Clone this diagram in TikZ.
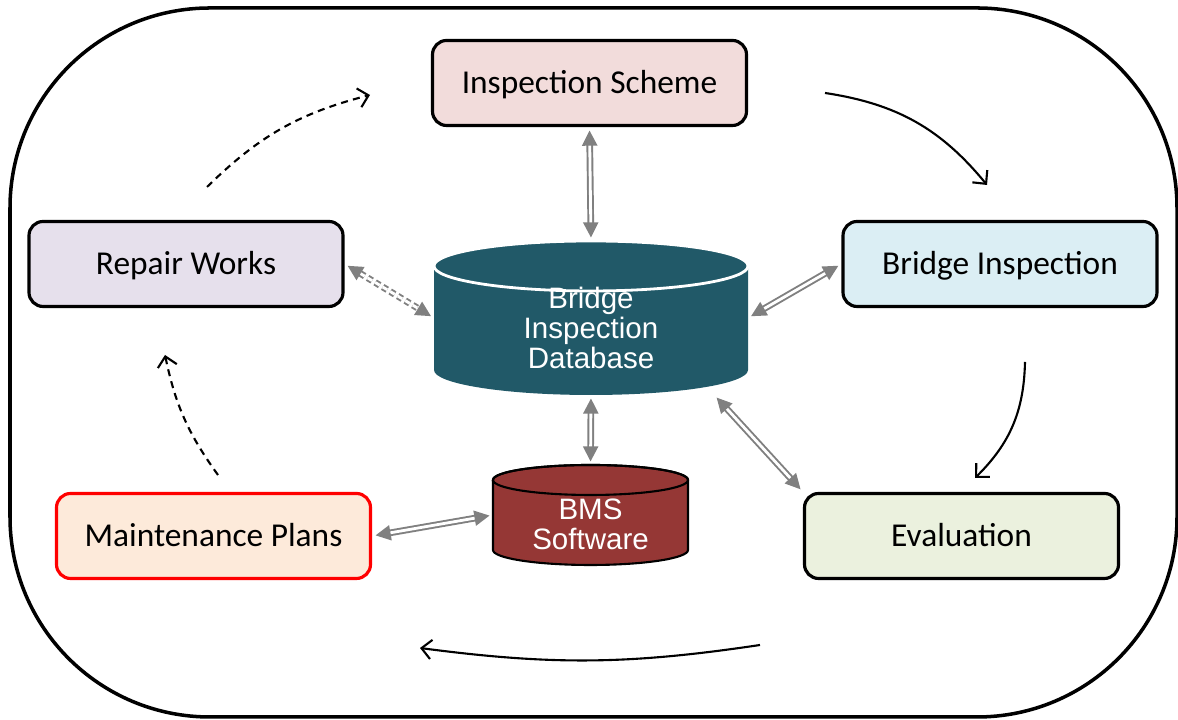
\documentclass[tikz,border=0pt]{standalone}
\usepackage{fontspec}
\setmainfont{Carlito}
\newfontfamily\dbfont{Liberation Sans}
\usetikzlibrary{arrows.meta}

\definecolor{schemefill}{HTML}{F2DCDB}
\definecolor{repairfill}{HTML}{E6E0EC}
\definecolor{inspfill}{HTML}{DBEEF4}
\definecolor{maintfill}{HTML}{FDEADA}
\definecolor{evalfill}{HTML}{EBF1DE}
\definecolor{dbfill}{HTML}{215968}
\definecolor{bmsfill}{HTML}{953735}
\definecolor{linkgray}{HTML}{808080}

\begin{document}
\begin{tikzpicture}
            [stage/.style = {draw, line width=0.9pt, rounded corners=4pt,
                             minimum width=3.14cm, minimum height=0.85cm,
                             text height=8.2pt, text depth=2pt,
                             font=\fontsize{9.5}{11}\selectfont},
             storebox/.style = {inner sep=0pt, outer sep=0pt},
             storetext/.style = {text=white, align=center, inner sep=0pt,
                                 font=\dbfont\fontsize{8.4}{8.6}\selectfont},
             link/.style = {draw=linkgray, double=white, double distance=0.8pt,
                            line width=0.55pt, shorten <=1pt, shorten >=1pt,
                            {Triangle[length=4.3pt,width=4.3pt]}-{Triangle[length=4.3pt,width=4.3pt]}},
             flow/.style = {line width=0.6pt, -{Straight Barb[length=2.8pt,width=5.5pt]}}]
            \useasboundingbox (0,0) rectangle (11.78,7.20);
            % outer frame
            \draw[line width=1pt, rounded corners=2cm] (0.10,0.03) rectangle (11.77,7.12);
            % stages of the cycle
            \node[stage, fill=schemefill] (scheme) at (5.895,6.37) {Inspection Scheme};
            \node[stage, fill=inspfill] (insp) at (10.00,4.56) {Bridge Inspection};
            \node[stage, fill=evalfill] (eval) at (9.615,1.84) {Evaluation};
            \node[stage, fill=maintfill, draw=red] (maint) at (2.135,1.84) {Maintenance Plans};
            \node[stage, fill=repairfill] (repair) at (1.86,4.56) {Repair Works};
            % database cylinder
            \node[storebox, minimum width=3.14cm, minimum height=1.54cm] (db) at (5.91,4.02) {};
            \fill[dbfill] ([yshift=-0.25cm]db.north west) -- ([yshift=0.25cm]db.south west)
                arc[start angle=180, end angle=360, x radius=1.57cm, y radius=0.25cm]
                -- ([yshift=-0.25cm]db.north east)
                arc[start angle=0, end angle=180, x radius=1.57cm, y radius=0.25cm] -- cycle;
            \draw[white, line width=0.8pt] ([yshift=-0.25cm]db.north) ellipse [x radius=1.57cm, y radius=0.25cm];
            \node[storetext] (dbtext) at (5.91,3.92) {Bridge\\Inspection\\Database};
            % BMS cylinder
            \node[storebox, minimum width=1.95cm, minimum height=1.00cm] (bms) at (5.905,2.05) {};
            \filldraw[fill=bmsfill, draw=black, line width=0.6pt]
                ([yshift=-0.15cm]bms.north west) -- ([yshift=0.15cm]bms.south west)
                arc[start angle=180, end angle=360, x radius=0.975cm, y radius=0.15cm]
                -- ([yshift=-0.15cm]bms.north east)
                arc[start angle=0, end angle=180, x radius=0.975cm, y radius=0.15cm] -- cycle;
            \draw[line width=0.6pt] ([yshift=-0.15cm]bms.north) ellipse [x radius=0.975cm, y radius=0.15cm];
            \node[storetext] (bmstext) at (5.905,1.96) {BMS\\Software};
            % data links
            \draw[link] (scheme.south) -- (db.north);
            \draw[link] (insp.west) -- (db.east);
            \draw[link] (db.-32) -- (eval.north west);
            \draw[link] (db.south) -- (bms.north);
            \draw[link] (maint.east) -- (bms.west);
            \draw[link, dash pattern=on 1.5pt off 1pt] (repair.east) -- (db.west);
            % cycle arrows
            \coordinate (a1) at (8.25,6.27);
            \coordinate (b1) at (9.87,5.35);
            \coordinate (a2) at (10.25,3.58);
            \coordinate (b2) at (9.75,2.42);
            \coordinate (a3) at (7.60,0.75);
            \coordinate (b3) at (4.20,0.72);
            \coordinate (a4) at (2.18,2.45);
            \coordinate (b4) at (1.65,3.65);
            \coordinate (a5) at (2.07,5.33);
            \coordinate (b5) at (3.70,6.25);
            \draw[flow] (a1) to[bend left=21] (b1);
            \draw[flow] (a2) to[bend left=22] (b2);
            \draw[flow] (a3) to[bend left=8] (b3);
            \draw[flow, dash pattern=on 2pt off 1.5pt] (a4) to[bend left=12] (b4);
            \draw[flow, dash pattern=on 2pt off 1.5pt] (a5) to[bend left=15] (b5);
        \end{tikzpicture}
\end{document}
